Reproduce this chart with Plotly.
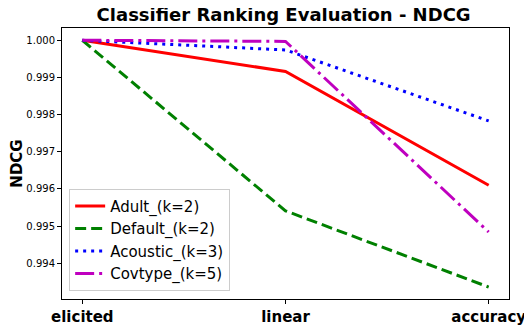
import plotly.graph_objects as go

methods = ["elicited", "linear", "accuracy"]
series_names = ["Adult_(k=2)", "Default_(k=2)", "Acoustic_(k=3)", "Covtype_(k=5)"]
adult = [1.0, 0.99916, 0.99610]
default = [1.0, 0.99541, 0.99336]
acoustic = [1.0, 0.99974, 0.99783]
covtype = [1.0, 0.99997, 0.99484]
y_ticks = [0.994, 0.995, 0.996, 0.997, 0.998, 0.999, 1.000]

styles = [
    ("#ff0000", "solid"),
    ("#008000", "11px,5px"),
    ("#0000ff", "3px,5px"),
    ("#bf00bf", "19px,5px,3px,5px"),
]

fig = go.Figure()
for name, vals, (color, dash) in zip(series_names, [adult, default, acoustic, covtype], styles):
    fig.add_trace(
        go.Scatter(
            x=list(range(len(methods))),
            y=vals,
            mode="lines",
            name=name,
            line=dict(color=color, width=3, dash=dash),
        )
    )

axis_common = dict(
    showline=True,
    linecolor="black",
    linewidth=1,
    mirror=True,
    showgrid=False,
    zeroline=False,
    ticks="outside",
    ticklen=4,
    tickcolor="black",
    automargin=False,
)

# page body has an 8px margin, so the figure is a bit smaller than the window
fig.update_layout(
    width=524,
    height=320,
    margin=dict(l=54, r=23, t=20, b=29),
    paper_bgcolor="white",
    plot_bgcolor="white",
    font=dict(family="DejaVu Sans", color="black"),
    title=dict(
        text="<b>Classifier Ranking Evaluation - NDCG</b>",
        x=0.526,
        xanchor="center",
        y=1.0,
        yanchor="top",
        pad=dict(t=0),
        font=dict(size=18),
    ),
    xaxis=dict(
        axis_common,
        range=[-0.1, 2.1],
        tickvals=list(range(len(methods))),
        ticktext=["<b>%s</b>" % m for m in methods],
        tickfont=dict(size=15),
    ),
    yaxis=dict(
        axis_common,
        range=[0.993038, 1.00033],
        tickvals=y_ticks,
        tickformat=".3f",
        tickfont=dict(size=10),
        title=dict(text="<b>NDCG</b>", font=dict(size=15), standoff=6),
    ),
    legend=dict(
        x=0.016,
        y=0.03,
        xanchor="left",
        yanchor="bottom",
        bgcolor="rgba(255,255,255,0.8)",
        bordercolor="#cccccc",
        borderwidth=1,
        font=dict(size=15),
        tracegroupgap=0,
    ),
)

fig.write_html("out.html")
